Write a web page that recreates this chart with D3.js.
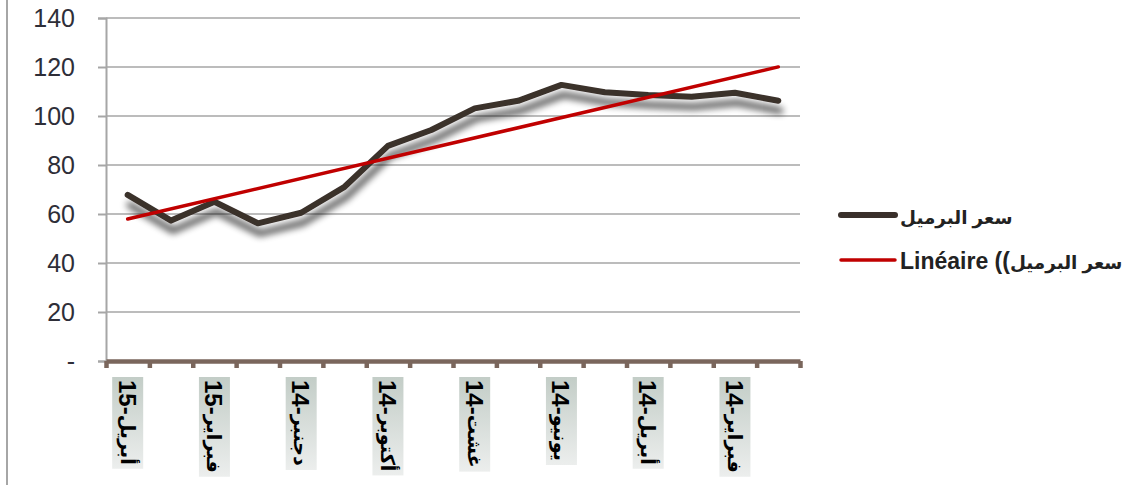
<!DOCTYPE html>
<meta charset="utf-8" />
<script src="https://d3js.org/d3.v7.min.js"></script>
<body style="margin:0;background:#fff">
<svg id="chart" width="1138" height="485" style="display:block;font-family:'Liberation Sans',Arial,'DejaVu Sans',sans-serif"></svg>
<script>
/* ── DATA ── */
// months, newest first (as in the sheet)
const months = ["أبريل","مارس","فبراير","يناير","دجنبر","نونبر","أكتوبر","شتنبر",
                "غشت","يوليوز","يونيو","ماي","أبريل","مارس","فبراير","يناير"];
const years  = [15,15,15,15,14,14,14,14,14,14,14,14,14,14,14,14];
const price  = [67.8,57.3,65.0,56.2,60.5,71.1,87.8,94.3,103.1,106.2,112.7,109.7,108.6,107.9,109.5,106.2];
const yTicks = [0,20,40,60,80,100,120,140];
const seriesName = "سعر البرميل";
const trendPrefix = "Linéaire ((";

/* ── CONFIG ── */
const W = 1138, H = 485,
      pLeft = 106, pRight = 800, pTop = 18, pBottom = 361;
const lineCol = "#3a302b", trendCol = "#c00000", gridCol = "#a6a6a6", axisCol = "#7a665c";
const arSize = 0.8;   // DejaVu arabic runs wide, shrink it a bit

const svg = d3.select("#chart");

const defs = svg.append("defs");
const sh = defs.append("filter").attr("id","shadow")
  .attr("x","-10%").attr("y","-30%").attr("width","120%").attr("height","160%");
sh.append("feGaussianBlur").attr("in","SourceAlpha").attr("stdDeviation",3.5).attr("result","b");
sh.append("feOffset").attr("in","b").attr("dx",2).attr("dy",10).attr("result","o");
sh.append("feComponentTransfer").attr("in","o").attr("result","s")
  .append("feFuncA").attr("type","linear").attr("slope",0.7);
const mg = sh.append("feMerge");
mg.append("feMergeNode").attr("in","s");
mg.append("feMergeNode").attr("in","SourceGraphic");

const grad = defs.append("linearGradient").attr("id","lab").attr("x1",0).attr("y1",0).attr("x2",0).attr("y2",1);
grad.append("stop").attr("offset","0%").attr("stop-color","#c3cdc7");
grad.append("stop").attr("offset","100%").attr("stop-color","#eceeed");

/* left frame edge */
svg.append("line").attr("x1",7).attr("x2",7).attr("y1",0).attr("y2",H)
  .attr("stroke",gridCol).attr("stroke-width",2);

/* scales */
const x = d3.scaleBand().domain(d3.range(months.length)).range([pLeft,pRight]);
const xEdge = d3.scaleLinear().domain([0,months.length]).range([pLeft,pRight]);
const y = d3.scaleLinear().domain([0,140]).range([pBottom,pTop]);
const cx = i => x(i) + x.bandwidth()/2;

/* gridlines */
svg.append("g").selectAll("line").data(yTicks.slice(1)).join("line")
  .attr("x1",pLeft).attr("x2",pRight).attr("y1",d=>y(d)).attr("y2",d=>y(d))
  .attr("stroke",gridCol).attr("stroke-width",1.6);

/* y axis */
const ya = svg.append("g").attr("transform",`translate(${pLeft},0)`)
  .call(d3.axisLeft(y).tickValues(yTicks).tickSize(8).tickPadding(23)
          .tickFormat(d=>d===0?"-":d));
ya.select(".domain").attr("stroke",gridCol).attr("stroke-width",2);
ya.selectAll(".tick line").attr("stroke",gridCol).attr("stroke-width",2);
ya.selectAll("text").attr("font-size",25).attr("fill","#2e2e38")
  .attr("font-family","'Liberation Sans',Arial,sans-serif");

/* x axis */
const xa = svg.append("g").attr("transform",`translate(0,${pBottom})`)
  .call(d3.axisBottom(xEdge).tickValues(d3.range(months.length+1)).tickFormat("")
          .tickSizeInner(7).tickSizeOuter(0));
xa.select(".domain").attr("stroke",axisCol).attr("stroke-width",4.5);
xa.selectAll(".tick line").attr("stroke",axisCol).attr("stroke-width",4.5);

/* x labels: every second category, rotated, on gradient boxes */
const labs = svg.append("g").selectAll("g").data(d3.range(0,months.length,2)).join("g")
  .attr("transform",i=>`translate(${cx(i)},377)`);
labs.append("rect").attr("fill","url(#lab)");
const lt = labs.append("text")
  .attr("transform","translate(0,3) rotate(90)")
  .attr("dominant-baseline","central")
  .attr("font-size",24).attr("font-weight","bold").attr("fill","#000");
lt.append("tspan").text(i=>`${years[i]}-`);
lt.append("tspan").attr("font-size",24*arSize).text(i=>months[i]);
labs.each(function(){
  const g = d3.select(this), len = g.select("text").node().getComputedTextLength();
  g.select("rect").attr("x",-15.5).attr("y",0).attr("width",31).attr("height",len+7);
});

/* series line with shadow */
const line = d3.line().x((d,i)=>cx(i)).y(d=>y(d));
svg.append("path").datum(price).attr("d",line)
  .attr("fill","none").attr("stroke",lineCol).attr("stroke-width",6)
  .attr("stroke-linejoin","round").attr("stroke-linecap","round")
  .attr("filter","url(#shadow)");

/* linear trend (least squares on the series) */
const n = price.length, mx = (n-1)/2, my = d3.mean(price);
const slope = d3.sum(price,(v,i)=>(i-mx)*(v-my)) / d3.sum(price,(v,i)=>(i-mx)**2);
const trend = [0,n-1].map(i=>({i, v: my + slope*(i-mx)}));
svg.append("path").datum(trend)
  .attr("d",d3.line().x(d=>cx(d.i)).y(d=>y(d.v)))
  .attr("fill","none").attr("stroke",trendCol).attr("stroke-width",3.5).attr("stroke-linecap","round");

/* legend */
const lg = svg.append("g");
const items = [{pre:"",col:lineCol,w:6,ly:215,ty:224},
               {pre:trendPrefix,col:trendCol,w:3.5,ly:260,ty:269}];
items.forEach(d=>{
  lg.append("line").attr("x1",841).attr("x2",895).attr("y1",d.ly).attr("y2",d.ly)
    .attr("stroke",d.col).attr("stroke-width",d.w).attr("stroke-linecap","round");
  const t = lg.append("text").attr("x",900).attr("y",d.ty).attr("font-size",23).attr("font-weight","bold")
    .attr("fill","#222");
  if(d.pre) t.append("tspan").text(d.pre);
  t.append("tspan").attr("font-size",23*arSize).text(seriesName);
});
</script>
</body>
